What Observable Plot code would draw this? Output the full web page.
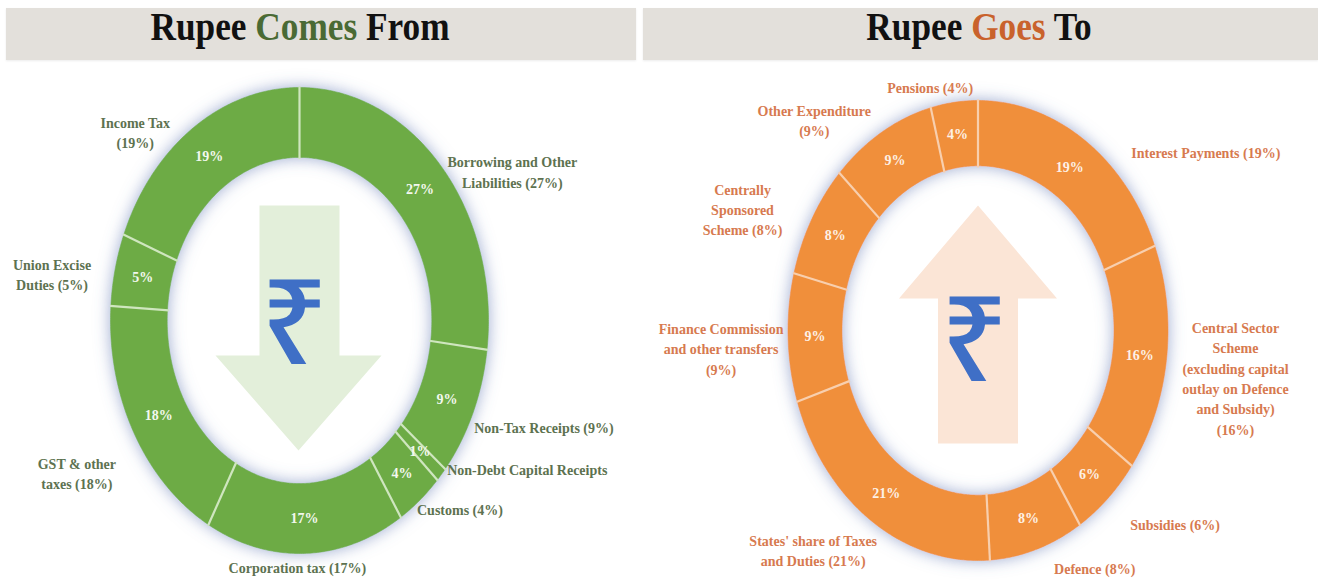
<!DOCTYPE html>
<html><head><meta charset="utf-8">
<script src="https://cdn.jsdelivr.net/npm/d3@7"></script>
<script src="https://cdn.jsdelivr.net/npm/@observablehq/plot@0.6"></script>
<style>
body{margin:0;background:#fff;}
#wrap{position:relative;width:1318px;height:582px;overflow:hidden;font-family:"Liberation Serif","Times New Roman",serif;}
.tbar{position:absolute;top:8px;height:52px;background:#e3e0db;box-shadow:0 1px 2px rgba(0,0,0,0.08);}
.ttl{position:absolute;top:6px;font-weight:bold;font-size:41px;line-height:1;color:#111;white-space:nowrap;transform:translateX(-50%) scaleX(0.86);}
.panel{position:absolute;top:60px;}
.panel svg{overflow:visible;background:transparent;}
</style></head><body>
<div id="wrap">
 <div class="tbar" style="left:6px;width:630px;"></div>
 <div class="tbar" style="left:643px;width:675px;"></div>
 <span class="ttl" style="left:300px;">Rupee <span style="color:#4a6a34">Comes</span> From</span>
 <span class="ttl" style="left:979px;">Rupee <span style="color:#c9622c">Goes</span> To</span>
 <div class="panel" id="left" style="left:0px;"></div>
 <div class="panel" id="right" style="left:640px;"></div>
</div>
<script>
// ---- Data: Rupee Comes From ----
const comesCategories = ["Borrowing and Other Liabilities", "Non-Tax Receipts", "Non-Debt Capital Receipts", "Customs", "Corporation tax", "GST & other taxes", "Union Excise Duties", "Income Tax"];
const comesValues = [27, 9, 1, 4, 17, 18, 5, 19];
const comesLabels = ["Borrowing and Other\nLiabilities (27%)", "Non-Tax Receipts (9%)", "Non-Debt Capital Receipts", "Customs (4%)", "Corporation tax (17%)", "GST & other\ntaxes (18%)", "Union Excise\nDuties (5%)", "Income Tax\n(19%)"];

// ---- Data: Rupee Goes To ----
const goesCategories = ["Interest Payments", "Central Sector Scheme", "Subsidies", "Defence", "States' share of Taxes and Duties", "Finance Commission and other transfers", "Centrally Sponsored Scheme", "Other Expenditure", "Pensions"];
const goesValues = [19, 16, 6, 8, 21, 9, 8, 9, 4];
const goesLabels = ["Interest Payments (19%)", "Central Sector\nScheme\n(excluding capital\noutlay on Defence\nand Subsidy)\n(16%)", "Subsidies (6%)", "Defence (8%)", "States' share of Taxes\nand Duties (21%)", "Finance Commission\nand other transfers\n(9%)", "Centrally\nSponsored\nScheme (8%)", "Other Expenditure\n(9%)", "Pensions (4%)"];

// ---- Layout (pixel offsets of outer labels from the slice's outer-edge midpoint) ----
const comesLabelOffsets = [[71, 4.5], [71, 13.5], [86, -6], [40, 8], [-8, 13], [-57, 40], [-63, 3.5], [-58, 4]];
const goesLabelOffsets = [[121, 11], [69, 18], [67, 25], [58, 18], [-58, 29], [-67, 10], [-69, -11], [-67, -13], [-24, -16]];
// block arrows (pixel offsets from ring centre)
const downArrow = [[-40,-115],[40,-115],[40,35],[82,35],[-1,130],[-84,35],[-40,35],[-40,-115]];
const upArrow = [[0,-125],[79,-32],[40,-32],[40,113],[-40,113],[-40,-32],[-79,-32],[0,-125]];

function donut(el, cfg) {
  const {values, names, labels, offsets, arrow, arrowFill, rupee, cx, cy, rx, ry, left, k, fill, sep, labelColor, pctColor, width} = cfg;
  const total = d3.sum(values);
  let cum = 0;
  const slices = values.map((v, i) => {
    const a0 = cum / total * 2 * Math.PI; cum += v;
    const a1 = cum / total * 2 * Math.PI;
    return {name: names[i], label: labels[i], v, a0, a1, mid: (a0 + a1) / 2, off: offsets[i]};
  });
  const pts = [];
  for (const s of slices) {
    const n = Math.max(6, Math.ceil((s.a1 - s.a0) / 0.01));
    for (let j = 0; j <= n; j++) { const t = s.a0 + (s.a1 - s.a0) * j / n; pts.push({name: s.name, x: Math.sin(t), y: Math.cos(t)}); }
    for (let j = n; j >= 0; j--) { const t = s.a0 + (s.a1 - s.a0) * j / n; pts.push({name: s.name, x: k * Math.sin(t), y: k * Math.cos(t)}); }
    pts.push({name: s.name, x: Math.sin(s.a0), y: Math.cos(s.a0)});
  }
  const arrowPts = arrow.map(([px, py]) => ({x: px / rx, y: -py / ry}));
  const midR = (1 + k) / 2;
  const svg = Plot.plot({
    width, height: 522, margin: 0,
    x: {domain: [-1, 1], range: [cx - rx - left, cx + rx - left], axis: null},
    y: {domain: [-1, 1], range: [cy + ry - 60, cy - ry - 60], axis: null},
    marks: [
      Plot.line(arrowPts, {x: "x", y: "y", fill: arrowFill, stroke: "none", curve: "linear"}),
      Plot.text(["₹"], {x: rupee[0] / rx, y: -rupee[1] / ry, text: d => d, fontSize: 118, fill: "#3f6fc6", fontFamily: "Noto Sans, DejaVu Sans, sans-serif", fontWeight: 500}),
      Plot.line(pts, {x: "x", y: "y", z: "name", fill, stroke: fill, strokeWidth: 0.6, curve: "linear"}),
      Plot.link(slices, {x1: d => k * Math.sin(d.a0) * 0.99, y1: d => k * Math.cos(d.a0) * 0.99, x2: d => Math.sin(d.a0) * 1.005, y2: d => Math.cos(d.a0) * 1.005, stroke: sep, strokeWidth: 2.2}),
      Plot.text(slices, {x: d => midR * Math.sin(d.mid), y: d => midR * Math.cos(d.mid), text: d => d.v + "%", fill: pctColor, fontSize: 14, fontWeight: "bold", fontFamily: "Liberation Serif, serif"}),
      Plot.text(slices, {x: d => Math.sin(d.mid) + d.off[0] / rx, y: d => Math.cos(d.mid) - d.off[1] / ry, text: "label", fill: labelColor, fontSize: 14, fontWeight: "bold", fontFamily: "Liberation Serif, serif", lineHeight: 1.45, textAnchor: "middle"})
    ]
  });
  // soft glow around the ring
  const ns = "http://www.w3.org/2000/svg";
  const defs = document.createElementNS(ns, "defs");
  const id = "glow-" + el.id;
  defs.innerHTML = `<filter id="${id}" x="-30%" y="-30%" width="160%" height="160%"><feDropShadow dx="0" dy="0" stdDeviation="8" flood-color="#5a72b0" flood-opacity="0.6"/></filter>`;
  svg.insertBefore(defs, svg.firstChild);
  const lines = svg.querySelectorAll('g[aria-label="line"]');
  lines[1].setAttribute("filter", `url(#${id})`);
  el.appendChild(svg);
}

donut(document.getElementById("left"), {
  values: comesValues, names: comesCategories, labels: comesLabels, offsets: comesLabelOffsets,
  arrow: downArrow, arrowFill: "#e3efda", rupee: [-5, 6],
  cx: 299, cy: 320, rx: 189, ry: 233, left: 0, k: 0.70, width: 640,
  fill: "#6dab45", sep: "#cfe6bf", labelColor: "#5d7250", pctColor: "#f3f8ee"
});
donut(document.getElementById("right"), {
  values: goesValues, names: goesCategories, labels: goesLabels, offsets: goesLabelOffsets,
  arrow: upArrow, arrowFill: "#fbe5d6", rupee: [-3.5, 13],
  cx: 977.5, cy: 330, rx: 190, ry: 230, left: 640, k: 0.716, width: 678,
  fill: "#f08f3a", sep: "#f8cfae", labelColor: "#d77a4f", pctColor: "#fdf1e6"
});
</script>
</body></html>
